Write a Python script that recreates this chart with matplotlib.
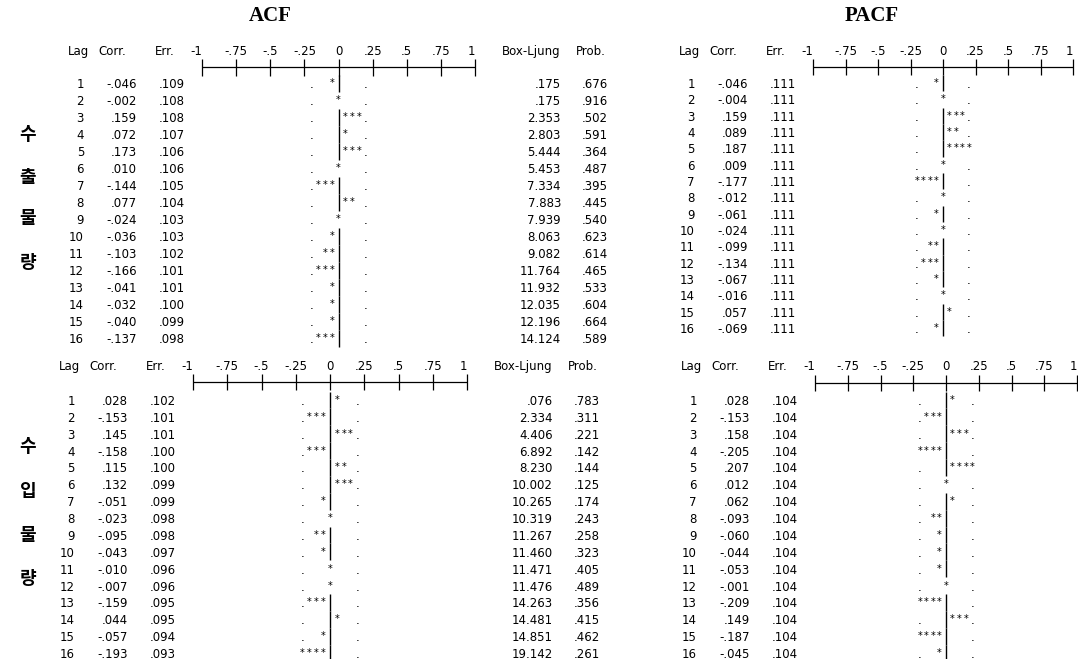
import matplotlib
matplotlib.use('Agg')
import numpy as np
import matplotlib.pyplot as plt
from matplotlib.transforms import offset_copy

plt.rcParams['font.family'] = ['DejaVu Sans']

lags = list(range(1, 17))

exp_acf_corr = [-.046, -.002, .159, .072, .173, .010, -.144, .077, -.024, -.036, -.103, -.166, -.041, -.032, -.040, -.137]
exp_acf_err = [.109, .108, .108, .107, .106, .106, .105, .104, .103, .103, .102, .101, .101, .100, .099, .098]
exp_box_ljung = [.175, .175, 2.353, 2.803, 5.444, 5.453, 7.334, 7.883, 7.939, 8.063, 9.082, 11.764, 11.932, 12.035, 12.196, 14.124]
exp_prob = [.676, .916, .502, .591, .364, .487, .395, .445, .540, .623, .614, .465, .533, .604, .664, .589]
exp_pacf_corr = [-.046, -.004, .159, .089, .187, .009, -.177, -.012, -.061, -.024, -.099, -.134, -.067, -.016, .057, -.069]
exp_pacf_err = [.111] * 16

imp_acf_corr = [.028, -.153, .145, -.158, .115, .132, -.051, -.023, -.095, -.043, -.010, -.007, -.159, .044, -.057, -.193]
imp_acf_err = [.102, .101, .101, .100, .100, .099, .099, .098, .098, .097, .096, .096, .095, .095, .094, .093]
imp_box_ljung = [.076, 2.334, 4.406, 6.892, 8.230, 10.002, 10.265, 10.319, 11.267, 11.460, 11.471, 11.476, 14.263, 14.481, 14.851, 19.142]
imp_prob = [.783, .311, .221, .142, .144, .125, .174, .243, .258, .323, .405, .489, .356, .415, .462, .261]
imp_pacf_corr = [.028, -.153, .158, -.205, .207, .012, .062, -.093, -.060, -.044, -.053, -.001, -.209, .149, -.187, -.045]
imp_pacf_err = [.104] * 16

tick_values = [-1, -.75, -.5, -.25, 0, .25, .5, .75, 1]
tick_labels = ['-1', '-.75', '-.5', '-.25', '0', '.25', '.5', '.75', '1']

exp_label = '수출물량'
imp_label = '수입물량'

W, H = 1078, 659
FS = 8.5
VA = 'center_baseline'
fig = plt.figure(figsize=(W / 100, H / 100), dpi=100)


def fmt(v):
    s = f'{v:.3f}'
    if s.startswith('0.') or s.startswith('-0.'):
        s = s.replace('0.', '.', 1)
    return s


def draw_panel(corr, err, box, prob, x0, x1, y_head, y_axis, y_first, y_last):
    ax = fig.add_axes([x0 / W, 1 - y_last / H, (x1 - x0) / W, (y_last - y_first) / H])
    ax.set_xlim(-1, 1)
    ax.set_ylim(lags[-1], lags[0])
    ax.axis('off')
    step = (y_last - y_first) / (len(lags) - 1)
    head = lags[0] - (y_first - y_head) / step
    axis_row = lags[0] - (y_first - y_axis) / step

    def off(dx):
        return offset_copy(ax.transData, fig=fig, x=dx, y=0, units='dots')

    # scale line
    ax.hlines(axis_row, -1, 1, color='black', lw=0.9, clip_on=False)
    ax.vlines(tick_values, axis_row - 0.5, axis_row + 0.5, color='black', lw=0.9, clip_on=False)
    for v, lab in zip(tick_values, tick_labels):
        ha = 'right' if abs(v) == 1 else 'center'
        ax.text(v, head, lab, ha=ha, va=VA, fontsize=FS)

    # column headers
    ax.text(-1, head, 'Lag', transform=off(-134), ha='left', va=VA, fontsize=FS)
    ax.text(-1, head, 'Corr.', transform=off(-104), ha='left', va=VA, fontsize=FS)
    ax.text(-1, head, 'Err.', transform=off(-47), ha='left', va=VA, fontsize=FS)
    if box is not None:
        ax.text(1, head, 'Box-Ljung', transform=off(27), ha='left', va=VA, fontsize=FS)
        ax.text(1, head, 'Prob.', transform=off(101), ha='left', va=VA, fontsize=FS)

    cell = 0.05
    bar_rows = []
    for i, (lag, r, e) in enumerate(zip(lags, corr, err)):
        ax.text(-1, lag, str(lag), transform=off(-118), ha='right', va=VA, fontsize=FS)
        ax.text(-1, lag, fmt(r), transform=off(-65), ha='right', va=VA, fontsize=FS)
        ax.text(-1, lag, fmt(e), transform=off(-17), ha='right', va=VA, fontsize=FS)
        if box is not None:
            ax.text(1, lag, fmt(box[i]), transform=off(86), ha='right', va=VA, fontsize=FS)
            ax.text(1, lag, fmt(prob[i]), transform=off(133), ha='right', va=VA, fontsize=FS)

        # SPSS-style character bar: one star per .05
        n = int(round(abs(r) / cell))
        m = int(round(2 * e / cell))
        side = 1 if r > 0 else -1
        if n == 0:
            ax.text(0, lag, '*', ha='center', va='center', fontsize=7)
        else:
            bar_rows.append(lag)
            for k in range(1, n + 1):
                ax.text(side * k * cell, lag, '*', ha='center', va='center', fontsize=7)
        for s in (-1, 1):
            if not (s == side and n >= m):
                ax.text(s * m * cell, lag, '.', ha='center', va=VA, fontsize=FS)

    bar_rows = np.array(bar_rows, dtype=float)
    ax.vlines(np.zeros_like(bar_rows), bar_rows - 0.5, bar_rows + 0.5,
              color='black', lw=1.0, clip_on=False)


draw_panel(exp_acf_corr, exp_acf_err, exp_box_ljung, exp_prob, 202, 475, 50, 67, 83, 338)
draw_panel(exp_pacf_corr, exp_pacf_err, None, None, 813, 1073, 50, 67, 83, 328)
draw_panel(imp_acf_corr, imp_acf_err, imp_box_ljung, imp_prob, 193, 467, 365, 382, 400, 653)
draw_panel(imp_pacf_corr, imp_pacf_err, None, None, 815, 1077, 365, 383, 400, 653)

# titles
fig.text(270 / W, 1 - 16 / H, 'ACF', family='Liberation Serif', weight='bold',
         fontsize=15, ha='center', va='center')
fig.text(872 / W, 1 - 16 / H, 'PACF', family='Liberation Serif', weight='bold',
         fontsize=15, ha='center', va='center')

# vertical Korean row labels
for ch, y in zip(exp_label, [135, 178, 218, 262]):
    fig.text(28 / W, 1 - y / H, ch, family=['Noto Sans CJK KR', 'DejaVu Sans'],
             weight='bold', fontsize=13, ha='center', va='center')
for ch, y in zip(imp_label, [447, 491, 535, 579]):
    fig.text(28 / W, 1 - y / H, ch, family=['Noto Sans CJK KR', 'DejaVu Sans'],
             weight='bold', fontsize=13, ha='center', va='center')

fig.savefig('out.png', dpi=100)
